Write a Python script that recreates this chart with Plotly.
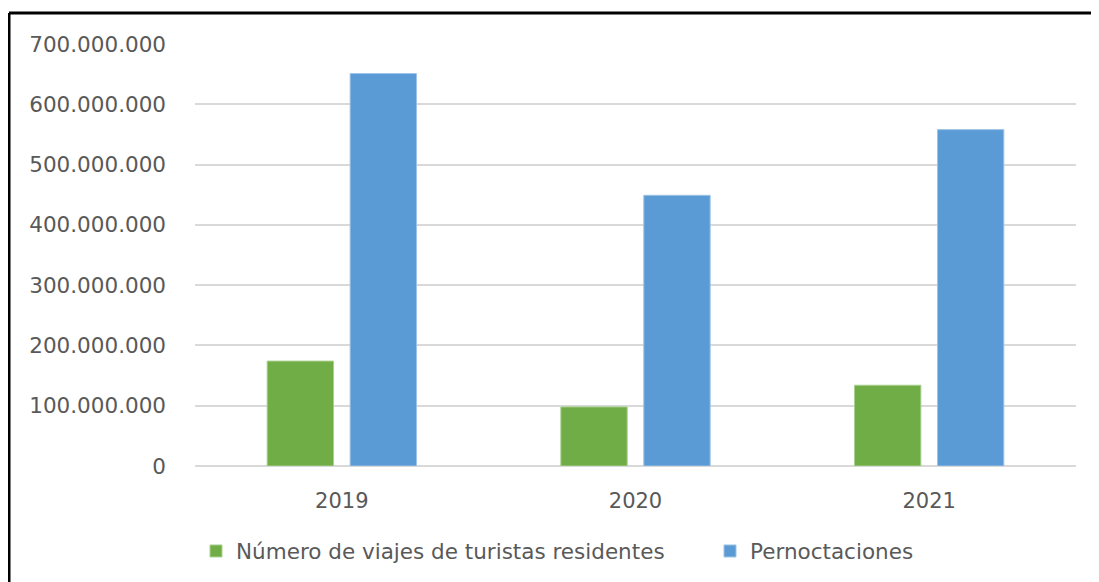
import plotly.graph_objects as go

years = ["2019", "2020", "2021"]
viajes = [174_000_000, 98_000_000, 134_000_000]
pernoctaciones = [651_000_000, 449_000_000, 558_000_000]
series_names = ["Número de viajes de turistas residentes", "Pernoctaciones"]
y_ticks = [0, 100_000_000, 200_000_000, 300_000_000, 400_000_000,
           500_000_000, 600_000_000, 700_000_000]

GREEN = "#70AD47"
BLUE = "#5B9BD5"
TEXT = "#595959"


def fmt_es(v):
    # thousands separated by dots, as in the Spanish original
    return f"{v:,}".replace(",", ".")


fig = go.Figure()
fig.add_trace(go.Bar(
    x=years, y=viajes, name=series_names[0],
    marker=dict(color=GREEN, line=dict(color="#A9D18E", width=1)),
    legend="legend",
))
fig.add_trace(go.Bar(
    x=years, y=pernoctaciones, name=series_names[1],
    marker=dict(color=BLUE, line=dict(color="#9DC3E6", width=1)),
    legend="legend2",
))

# the page body adds an 8px margin, so the figure is 8px smaller than the window
W, H = 1091, 574
L, R, T, B = 187, 23, 36, 116
pw, ph = W - L - R, H - T - B

legend_style = dict(orientation="h", xanchor="left", yanchor="middle",
                    y=(458 - 543) / ph, itemwidth=30,
                    font=dict(family="DejaVu Sans", size=21.5, color=TEXT))

fig.update_layout(
    width=W, height=H,
    margin=dict(l=L, r=R, t=T, b=B, autoexpand=False),
    plot_bgcolor="white", paper_bgcolor="white",
    barmode="group", bargap=0.435, bargroupgap=0.2,
    font=dict(family="DejaVu Sans", size=22, color=TEXT),
    xaxis=dict(showgrid=False, showline=False, ticks="",
               tickfont=dict(size=21, color=TEXT), ticklabelstandoff=20),
    yaxis=dict(range=[0, 700_000_000], tickvals=y_ticks,
               ticktext=[fmt_es(v) for v in y_ticks],
               showgrid=True, gridcolor="#D9D9D9", gridwidth=2,
               zeroline=True, zerolinecolor="#D9D9D9", zerolinewidth=2,
               showline=False, ticks="", ticklabelstandoff=28,
               tickfont=dict(size=21.5, color=TEXT)),
    legend=dict(legend_style, x=(188 - L) / pw),
    legend2=dict(legend_style, x=(702 - L) / pw),
    showlegend=True,
)

# outer frame: black line on the top and left edges
top_y = 1 + (T - 5) / ph
left_x = (1 - L) / pw
fig.add_shape(type="line", xref="paper", yref="paper",
              x0=left_x, x1=1.1, y0=top_y, y1=top_y,
              line=dict(color="black", width=3))
fig.add_shape(type="line", xref="paper", yref="paper",
              x0=left_x, x1=left_x, y0=top_y, y1=-0.4,
              line=dict(color="black", width=3))

fig.write_html("out.html")
